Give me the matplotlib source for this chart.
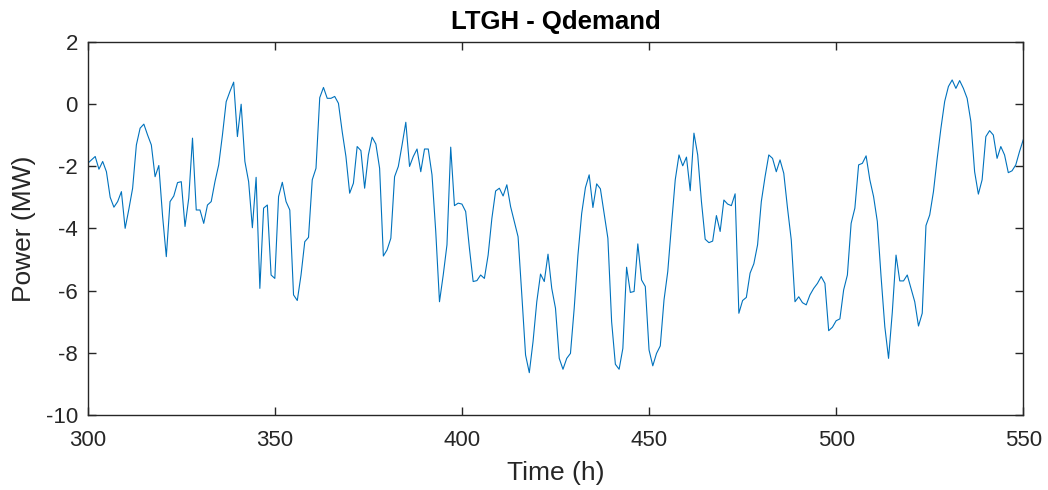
import numpy as np
import matplotlib
matplotlib.use("Agg")
import matplotlib.pyplot as plt

# Hourly reactive power demand, LTGH, hours 300-550
hours = np.arange(300, 551)
qdemand = [
    -1.91, -1.80, -1.69, -2.10, -1.85, -2.18, -3.00, -3.32, -3.14, -2.82,   # 300-309
    -4.00, -3.38, -2.71, -1.32, -0.78, -0.65, -1.00, -1.32, -2.34, -1.98,   # 310-319
    -3.60, -4.91, -3.14, -2.96, -2.53, -2.50, -3.94, -3.03, -1.10, -3.41,   # 320-329
    -3.41, -3.84, -3.25, -3.14, -2.50, -1.96, -1.00, 0.07, 0.40, 0.70,      # 330-339
    -1.05, -0.01, -1.85, -2.50, -3.98, -2.36, -5.93, -3.35, -3.25, -5.50,   # 340-349
    -5.61, -2.98, -2.52, -3.14, -3.41, -6.14, -6.32, -5.50, -4.43, -4.29,   # 350-359
    -2.44, -2.07, 0.20, 0.53, 0.18, 0.18, 0.24, 0.02, -0.89, -1.69,         # 360-369
    -2.87, -2.55, -1.37, -1.50, -2.71, -1.64, -1.07, -1.29, -2.07, -4.89,   # 370-379
    -4.69, -4.32, -2.34, -2.01, -1.32, -0.59, -2.01, -1.69, -1.45, -2.18,   # 380-389
    -1.45, -1.45, -2.28, -4.10, -6.36, -5.50, -4.53, -1.39, -3.27, -3.19,   # 390-399
    -3.22, -3.46, -4.64, -5.71, -5.68, -5.50, -5.61, -4.86, -3.68, -2.80,   # 400-409
    -2.71, -2.96, -2.60, -3.30, -3.78, -4.27, -6.14, -8.07, -8.64, -7.64,   # 410-419
    -6.36, -5.47, -5.71, -4.83, -5.93, -6.57, -8.18, -8.53, -8.18, -8.02,   # 420-429
    -6.57, -4.86, -3.52, -2.69, -2.28, -3.33, -2.57, -2.73, -3.52, -4.32,   # 430-439
    -7.00, -8.37, -8.53, -7.86, -5.25, -6.06, -6.03, -4.50, -5.66, -5.87,   # 440-449
    -7.91, -8.42, -8.02, -7.78, -6.30, -5.39, -3.89, -2.44, -1.64, -1.99,   # 450-459
    -1.71, -2.79, -0.94, -1.64, -3.14, -4.35, -4.46, -4.41, -3.59, -4.10,   # 460-469
    -3.09, -3.22, -3.27, -2.89, -6.73, -6.32, -6.22, -5.44, -5.14, -4.53,   # 470-479
    -3.14, -2.34, -1.64, -1.75, -2.18, -1.80, -2.23, -3.35, -4.37, -6.36,   # 480-489
    -6.20, -6.39, -6.46, -6.14, -5.93, -5.77, -5.55, -5.77, -7.29, -7.18,   # 490-499
    -6.97, -6.91, -5.98, -5.50, -3.84, -3.35, -1.96, -1.91, -1.67, -2.44,   # 500-509
    -2.98, -3.78, -5.55, -7.16, -8.18, -6.70, -4.86, -5.69, -5.69, -5.50,   # 510-519
    -5.93, -6.36, -7.14, -6.73, -3.91, -3.57, -2.82, -1.75, -0.78, 0.08,    # 520-529
    0.56, 0.77, 0.50, 0.75, 0.50, 0.18, -0.57, -2.18, -2.90, -2.44,         # 530-539
    -1.05, -0.86, -1.00, -1.75, -1.37, -1.64, -2.21, -2.15, -1.96, -1.53,   # 540-549
    -1.15,                                                                  # 550
]

x_ticks = [300, 350, 400, 450, 500, 550]
y_ticks = [2, 0, -2, -4, -6, -8, -10]

plt.rcParams['font.family'] = ['Liberation Sans', 'DejaVu Sans']
plt.rcParams['axes.unicode_minus'] = False

axis_color = '#262626'
fig = plt.figure(figsize=(10.48, 4.90), dpi=100)
ax = fig.add_axes([0.0837, 0.1531, 0.8927, 0.7618])

ax.plot(hours, qdemand, color='#0072BD', linewidth=0.8)

ax.set_xlim(300, 550)
ax.set_ylim(-10, 2)
ax.set_xticks(x_ticks)
ax.set_yticks(y_ticks)

ax.tick_params(direction='in', length=6, width=1.0, colors=axis_color,
               labelsize=16, top=True, right=True)
ax.tick_params(axis='x', pad=11)
ax.tick_params(axis='y', pad=7)
for s in ax.spines.values():
    s.set_color(axis_color)
    s.set_linewidth(1.0)

ax.set_title('LTGH - Qdemand', fontsize=18.5, fontweight='bold', color='black', pad=9)
ax.set_xlabel('Time (h)', fontsize=19, color=axis_color, labelpad=7)
ax.set_ylabel('Power (MW)', fontsize=19, color=axis_color, labelpad=7)

fig.savefig('out.png', dpi=100)
